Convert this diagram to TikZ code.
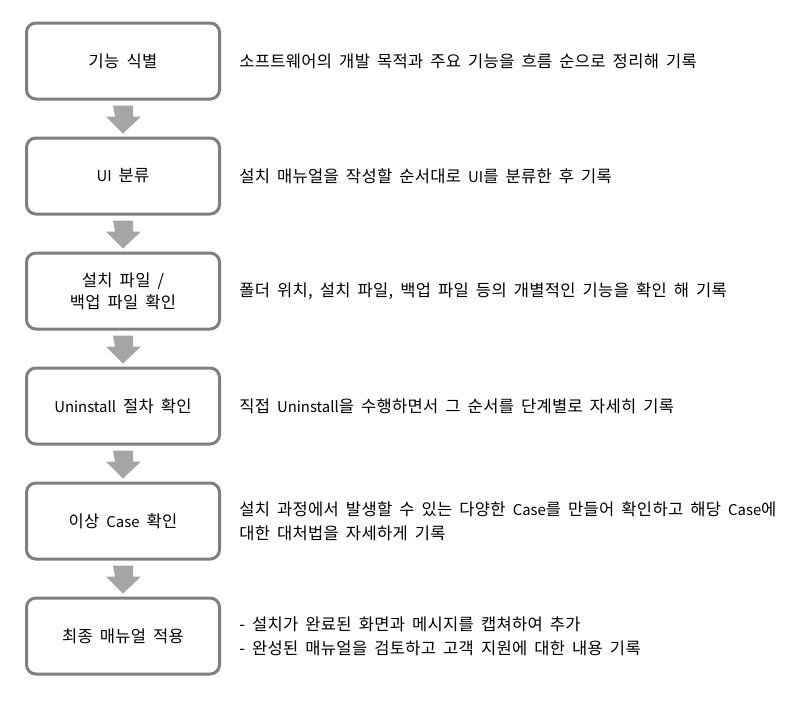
\documentclass[tikz,border=0pt]{standalone}
\usepackage{fontspec}
\setmainfont{Noto Sans CJK KR}[LetterSpace=2, WordSpace=1.75]
\newfontfamily\latf{Noto Sans CJK KR}[Scale=0.9, WordSpace=1.75]
\newcommand{\lat}[1]{{\latf #1}}
\definecolor{boxgray}{HTML}{7F7F7F}
\definecolor{arrgray}{HTML}{A5A5A5}
\newlength{\pxu}
\setlength{\pxu}{0.75pt}
\tikzset{
  stepbox/.style={draw=boxgray, line width=2.25pt, rounded corners=7pt, minimum width=193\pxu, minimum height=76\pxu, align=center, font=\fontsize{12.4pt}{16.5pt}\selectfont, inner sep=0pt},
  desc/.style={anchor=west, align=left, font=\fontsize{12.4pt}{18pt}\selectfont, inner sep=0pt},
  flowarrow/.style={fill=arrgray, draw=none},
}
\begin{document}
\begin{tikzpicture}[x=0.75pt, y=-0.75pt]
\useasboundingbox (0,0) rectangle (803,704);
\foreach \i/\t/\d in {
  1/{기능 식별}/{소프트웨어의 개발 목적과 주요 기능을 흐름 순으로 정리해 기록},
  2/{\lat{UI} 분류}/{설치 매뉴얼을 작성할 순서대로 \lat{UI}를 분류한 후 기록},
  3/{설치 파일 /\\백업 파일 확인}/{폴더 위치, 설치 파일, 백업 파일 등의 개별적인 기능을 확인 해 기록},
  4/{\lat{Uninstall} 절차 확인}/{직접 \lat{Uninstall}을 수행하면서 그 순서를 단계별로 자세히 기록},
  5/{이상 \lat{Case} 확인}/{설치 과정에서 발생할 수 있는 다양한 \lat{Case}를 만들어 확인하고 해당 \lat{Case}에\\대한 대처법을 자세하게 기록},
  6/{최종 매뉴얼 적용}/{- 설치가 완료된 화면과 메시지를 캡쳐하여 추가\\- 완성된 매뉴얼을 검토하고 고객 지원에 대한 내용 기록}} {
  \pgfmathsetmacro{\cy}{61+115*(\i-1)}
  \node[stepbox] (b\i) at (123,\cy) {\t};
  \node[desc] (d\i) at (239,\cy) {\d};
}
\foreach \i in {1,...,5} {
  \path (b\i.south) ++(0,5) coordinate (top\i);
  \fill[flowarrow] (top\i) ++(-10,0) -- ++(20,0) -- ++(0,11) -- ++(8,0) -- ++(-18,17) -- ++(-17,-17) -- ++(9,0) -- cycle;
}
\end{tikzpicture}
\end{document}
